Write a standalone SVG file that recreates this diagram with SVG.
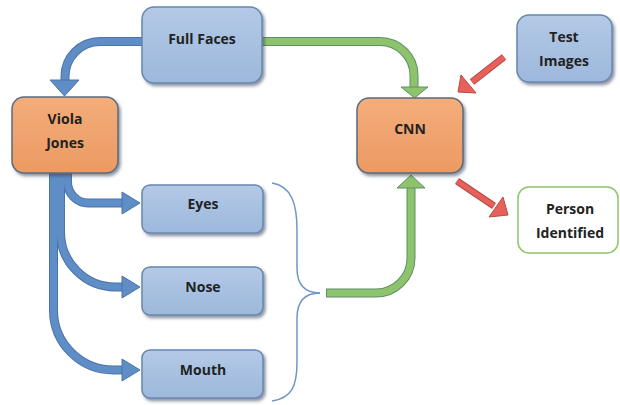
<svg xmlns="http://www.w3.org/2000/svg" width="620" height="405" viewBox="0 0 620 405">
<defs>
<linearGradient id="gBlue" x1="0" y1="0" x2="0" y2="1">
<stop offset="0" stop-color="#b3c9e6"/>
<stop offset="1" stop-color="#9db8dc"/>
</linearGradient>
<linearGradient id="gOrange" x1="0" y1="0" x2="0" y2="1">
<stop offset="0" stop-color="#f4ad7b"/>
<stop offset="1" stop-color="#ec9a62"/>
</linearGradient>
<filter id="sh" x="-10%" y="-10%" width="125%" height="130%">
<feDropShadow dx="2" dy="2.5" stdDeviation="1.5" flood-color="#2d3e57" flood-opacity="0.55"/>
</filter>
<style>
.blue{fill:url(#gBlue);stroke:#6886b0;stroke-width:1.5;filter:url(#sh)}
.orange{fill:url(#gOrange);stroke:#5b6b7c;stroke-width:1.5;filter:url(#sh)}
.out{fill:#ffffff;stroke:#8cc66a;stroke-width:1.5}
.t{font-family:"Open Sans","Liberation Sans",sans-serif;font-weight:bold;font-size:14px;fill:#222;text-anchor:middle}
.bo{fill:none;stroke:#4a74aa;stroke-width:9}
.bi{fill:none;stroke:#5f8dc6;stroke-width:7}
.bh{fill:#5f8dc6;stroke:#4a74aa;stroke-width:1}
.go{fill:none;stroke:#5f8f6a;stroke-width:9}
.gi{fill:none;stroke:#8dc46b;stroke-width:7}
.gh{fill:#8dc46b;stroke:#5f8f6a;stroke-width:1}
.ro{fill:none;stroke:#b54a45;stroke-width:7}
.ri{fill:none;stroke:#e8605a;stroke-width:5}
.rh{fill:#e8605a;stroke:#b54a45;stroke-width:1}
.brace{fill:none;stroke:#6f96c8;stroke-width:1.5}
</style>
</defs>
<rect width="620" height="405" fill="#ffffff"/>
<g id="connectors">
<!-- Full Faces to Viola Jones -->
<path class="bo" d="M142,41.5 H100 A35,35 0 0 0 65,76.5 V82"/>
<path class="bi" d="M143,41.5 H100 A35,35 0 0 0 65,76.5 V82"/>
<polygon class="bh" points="50,80 79,80 64.5,96"/>
<!-- Full Faces to CNN -->
<path class="go" d="M262,41.5 H380 A34,34 0 0 1 414,75.5 V88"/>
<path class="gi" d="M261,41.5 H380 A34,34 0 0 1 414,75.5 V88"/>
<polygon class="gh" points="401,87 428,87 414.5,98"/>
<!-- Viola Jones to Eyes / Nose / Mouth -->
<path class="bo" d="M53.5,173 V310 A60,60 0 0 0 113.5,370 H124"/>
<path class="bo" d="M60.5,173 V232 A55,55 0 0 0 115.5,287 H124"/>
<path class="bo" d="M67.5,173 V182 A21,21 0 0 0 88.5,203 H124"/>
<path class="bi" d="M53.5,172 V310 A60,60 0 0 0 113.5,370 H124"/>
<path class="bi" d="M60.5,172 V232 A55,55 0 0 0 115.5,287 H124"/>
<path class="bi" d="M67.5,172 V182 A21,21 0 0 0 88.5,203 H124"/>
<polygon class="bh" points="122,192 122,214 140,203"/>
<polygon class="bh" points="122,276 122,298 140,287"/>
<polygon class="bh" points="122,359 122,381 140,370"/>
<!-- Brace -->
<path class="brace" d="M272,183 C292,186 297,205 297,230 V268 C297,285 305,293 320,293"/>
<path class="brace" d="M320,293 C305,293 297,301 297,318 V362 C297,386 292,398 272,401"/>
<!-- Brace to CNN -->
<path class="go" d="M326,293 H376 A35,35 0 0 0 411,258 V187"/>
<path class="gi" d="M327,293 H376 A35,35 0 0 0 411,258 V187"/>
<polygon class="gh" points="397,188 425,188 411,175"/>
<!-- Test Images to CNN -->
<path class="ro" d="M504,57 L472,82"/>
<path class="ri" d="M504,57 L472,82"/>
<polygon class="rh" points="461,75 476,93 458,92"/>
<!-- CNN to Person Identified -->
<path class="ro" d="M457,181 L494,206"/>
<path class="ri" d="M457,181 L494,206"/>
<polygon class="rh" points="503,197 489,217 508,215"/>
</g>
<g id="full-faces">
<rect class="blue" x="142" y="7" width="120" height="76" rx="12"/>
<text class="t" x="202" y="44">Full Faces</text>
</g>
<g id="viola-jones">
<rect class="orange" x="12" y="97" width="106" height="76" rx="12"/>
<text class="t" x="65" y="124">Viola</text>
<text class="t" x="65" y="148">Jones</text>
</g>
<g id="test-images">
<rect class="blue" x="517" y="15" width="95" height="67" rx="12"/>
<text class="t" x="564" y="42">Test</text>
<text class="t" x="564" y="66">Images</text>
</g>
<g id="cnn">
<rect class="orange" x="357" y="98" width="106" height="75" rx="12"/>
<text class="t" x="410" y="134">CNN</text>
</g>
<g id="person-identified">
<rect class="out" x="518" y="187" width="100" height="66" rx="11"/>
<text class="t" x="570" y="214">Person</text>
<text class="t" x="570" y="238">Identified</text>
</g>
<g id="eyes">
<rect class="blue" x="142" y="185" width="121" height="48" rx="8"/>
<text class="t" x="203" y="209">Eyes</text>
</g>
<g id="nose">
<rect class="blue" x="142" y="267" width="121" height="48" rx="8"/>
<text class="t" x="203" y="292">Nose</text>
</g>
<g id="mouth">
<rect class="blue" x="142" y="350" width="121" height="48" rx="8"/>
<text class="t" x="203" y="375">Mouth</text>
</g>
</svg>
